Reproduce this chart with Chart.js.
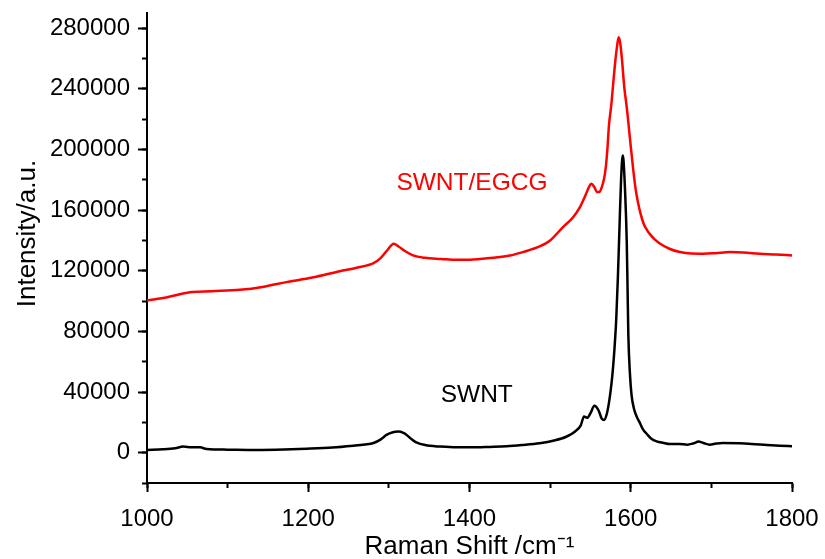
<!DOCTYPE html>
<html>
<head>
<meta charset="utf-8">
<script src="https://cdn.jsdelivr.net/npm/chart.js@4"></script>
<style>
  html, body { margin: 0; padding: 0; background: #fff; }
  canvas { display: block; }
</style>
</head>
<body>
<canvas id="ramanChart" width="825" height="559"></canvas>
<script>
// Raman spectra
const swntShift = [1000, 1020, 1035, 1045, 1055, 1066, 1074, 1100, 1136, 1170, 1198, 1230, 1256, 1270, 1281,
  1290, 1297, 1305, 1312, 1318, 1322, 1328, 1334, 1345, 1363, 1380, 1404, 1425, 1446, 1465, 1487, 1505, 1520,
  1531, 1538, 1542, 1546, 1550, 1555, 1560, 1564, 1567, 1570, 1573, 1576, 1578, 1580, 1582, 1584, 1586, 1588, 1590,
  1591, 1593, 1595, 1596, 1597, 1599, 1601, 1604, 1608, 1611, 1615, 1620, 1626, 1632, 1640, 1649, 1660, 1670, 1678,
  1684, 1690, 1698, 1706, 1714, 1735, 1750, 1769, 1785, 1800];
const swntIntensity = [1800, 2200, 2900, 4000, 3600, 3500, 2400, 2000, 1800, 2100, 2600, 3400, 4600, 5400, 6400,
  8800, 11700, 13500, 13900, 13000, 11700, 9000, 6800, 5000, 4000, 3600, 3500, 3800, 4200, 5000, 6200, 8000, 10500,
  14000, 18000, 23800, 23000, 26000, 31000, 28000, 22500, 21600, 25000, 33000, 45000, 56000, 70000, 88000, 115000, 148000, 180000, 196000,
  193000, 172000, 140000, 110000, 78000, 52000, 38000, 29000, 23000, 20000, 15500, 12300, 9000, 7500, 6500, 5700, 5800, 5300, 6200,
  7300, 6400, 5300, 6000, 6400, 6200, 5800, 5100, 4600, 4200];

const egcgShift = [1000, 1025, 1053, 1080, 1115, 1145, 1173, 1205, 1239, 1260, 1281, 1290, 1298, 1306, 1312,
  1320, 1330, 1345, 1365, 1384, 1405, 1429, 1450, 1466, 1487, 1500, 1516, 1528, 1537, 1544, 1548, 1551, 1555,
  1558, 1561, 1564, 1567, 1569, 1571, 1573, 1576, 1578, 1581, 1583, 1585, 1587, 1589, 1592, 1595, 1597, 1600, 1603,
  1606, 1609, 1612, 1616, 1620, 1624, 1630, 1636, 1648, 1661, 1675, 1690, 1705, 1723, 1740, 1760, 1780, 1800];
const egcgIntensity = [100400, 102500, 105800, 106500, 107400, 109500, 112500, 115500, 119700, 122000, 125000, 128500, 133500, 137800, 136000,
  133000, 130100, 128500, 127800, 127200, 127400, 128500, 130000, 132300, 136000, 140000, 148800, 155000, 162000, 170000, 175000, 177400, 175000,
  172000, 171900, 175000, 181000, 188000, 200000, 216000, 230000, 242000, 259000, 268000, 274000, 270000, 260000, 241000, 228000, 218000, 202000, 187000,
  174000, 165000, 158000, 151000, 147000, 144000, 140500, 138000, 134500, 132300, 131300, 131200, 131600, 132300, 132000, 131200, 130700, 130100];

// axis ranges and tick values (major ticks carry labels, minor ticks are bare marks)
const xMin = 1000, xMax = 1800;
const yMin = -20000, yMax = 290000;
const xTicks = [1000, 1200, 1400, 1600, 1800];
const xMinorTicks = [1000, 1100, 1200, 1300, 1400, 1500, 1600, 1700, 1800];
const yTicks = [0, 40000, 80000, 120000, 160000, 200000, 240000, 280000];
const yMinorTicks = [-20000, 0, 20000, 40000, 60000, 80000, 100000, 120000, 140000, 160000, 180000,
  200000, 220000, 240000, 260000, 280000];

// curve labels: text, shift, intensity
const curveLabels = ['SWNT/EGCG', 'SWNT'];
const curveLabelShift = [1403, 1409];
const curveLabelIntensity = [177600, 37600];
const curveLabelColors = ['#ff0000', '#000000'];

function toPoints(xs, ys) {
  return xs.map((x, i) => ({ x: x, y: ys[i] }));
}
function setTicks(values) {
  return (scale) => { scale.ticks = values.map(v => ({ value: v })); };
}

const FONT = "'Liberation Sans', Arial, Helvetica, sans-serif";
Chart.defaults.font.family = FONT;
Chart.defaults.color = '#000';

// writes the SWNT / SWNT/EGCG labels next to their curves
const curveLabelPlugin = {
  id: 'curveLabels',
  afterDatasetsDraw(chart) {
    const ctx = chart.ctx;
    const xs = chart.scales.x, ys = chart.scales.y;
    ctx.save();
    ctx.font = '24.5px ' + FONT;
    ctx.textAlign = 'center';
    ctx.textBaseline = 'middle';
    curveLabels.forEach((txt, i) => {
      ctx.fillStyle = curveLabelColors[i];
      ctx.fillText(txt, xs.getPixelForValue(curveLabelShift[i]), ys.getPixelForValue(curveLabelIntensity[i]));
    });
    ctx.restore();
  }
};

const minorGrid = { drawOnChartArea: false, tickLength: 5, tickWidth: 2, tickColor: '#000' };
const majorGrid = { drawOnChartArea: false, tickLength: 9, tickWidth: 2, tickColor: '#000' };

const ctx = document.getElementById('ramanChart').getContext('2d');
new Chart(ctx, {
  type: 'line',
  data: {
    datasets: [
      {
        label: 'SWNT/EGCG',
        data: toPoints(egcgShift, egcgIntensity),
        borderColor: '#ff0000',
        borderWidth: 2.5,
        pointRadius: 0,
        cubicInterpolationMode: 'monotone',
        fill: false
      },
      {
        label: 'SWNT',
        data: toPoints(swntShift, swntIntensity),
        borderColor: '#000000',
        borderWidth: 2.5,
        pointRadius: 0,
        cubicInterpolationMode: 'monotone',
        fill: false
      }
    ]
  },
  options: {
    responsive: false,
    animation: false,
    layout: { padding: { top: 13, right: 33, bottom: 0, left: 0 } },
    plugins: {
      legend: { display: false },
      tooltip: { enabled: false }
    },
    scales: {
      x: {
        type: 'linear',
        position: 'bottom',
        weight: 1,
        min: xMin,
        max: xMax,
        afterBuildTicks: setTicks(xTicks),
        ticks: { padding: 13, font: { size: 24 }, maxRotation: 0, autoSkip: false, callback: v => String(v) },
        grid: majorGrid,
        border: { display: true, color: '#000', width: 2 },
        title: { display: true, text: 'Raman Shift /cm\u207B\u00B9', font: { size: 26, lineHeight: 0.92 }, padding: { top: 0, bottom: 0 } },
        afterFit(s) { s.height = 76; s.paddingLeft = 0; s.paddingRight = 0; }
      },
      xMinor: {
        type: 'linear',
        position: 'bottom',
        weight: 0,
        min: xMin,
        max: xMax,
        afterBuildTicks: setTicks(xMinorTicks),
        ticks: { display: false, autoSkip: false },
        grid: minorGrid,
        border: { display: false },
        afterFit(s) { s.height = 0; s.paddingLeft = 0; s.paddingRight = 0; }
      },
      y: {
        type: 'linear',
        position: 'left',
        weight: 1,
        min: yMin,
        max: yMax,
        afterBuildTicks: setTicks(yTicks),
        ticks: { padding: 8, font: { size: 24 }, autoSkip: false, callback: v => String(v) },
        grid: majorGrid,
        border: { display: true, color: '#000', width: 2 },
        title: { display: true, text: '    Intensity/a.u.', font: { size: 26 }, padding: { top: 12, bottom: 0 } },
        afterFit(s) { s.width = 147; s.paddingTop = 0; s.paddingBottom = 0; }
      },
      yMinor: {
        type: 'linear',
        position: 'left',
        weight: 0,
        min: yMin,
        max: yMax,
        afterBuildTicks: setTicks(yMinorTicks),
        ticks: { display: false, autoSkip: false },
        grid: minorGrid,
        border: { display: false },
        afterFit(s) { s.width = 0; s.paddingTop = 0; s.paddingBottom = 0; }
      }
    }
  },
  plugins: [curveLabelPlugin]
});
</script>
</body>
</html>
